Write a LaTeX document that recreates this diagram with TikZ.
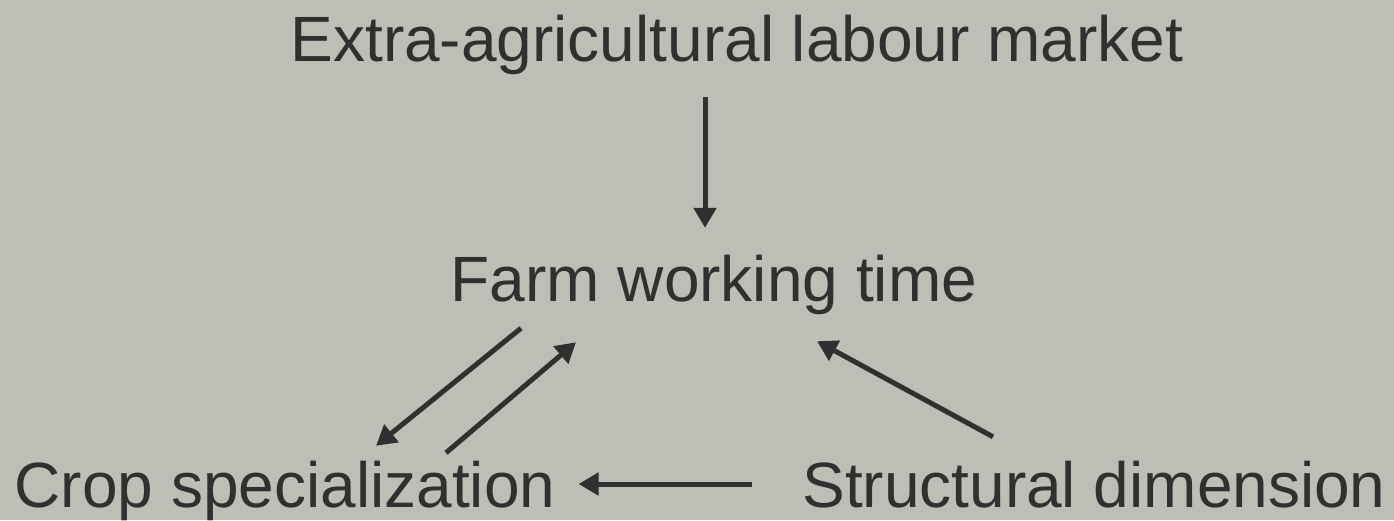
\documentclass[tikz,border=0pt]{standalone}
\usepackage{fontspec}
\setmainfont{Liberation Sans}
\usetikzlibrary{arrows.meta}
\definecolor{bgcol}{RGB}{190,190,182}
\definecolor{inkcol}{RGB}{48,48,48}
\tikzset{
  label/.style={anchor=base, inner xsep=0pt, inner ysep=27pt, text=inkcol,
    text height=47pt, text depth=14pt, font=\fontsize{64}{70}\selectfont},
  arr/.style={-{Triangle[length=20pt,width=22pt]}, line width=5pt, draw=inkcol}
}
\begin{document}
\begin{tikzpicture}[x=1pt,y=-1pt]
\useasboundingbox (0,0) rectangle (1394,520);
\fill[bgcol] (0,0) rectangle (1394,520);
\node[label] (market) at (737,61){Extra-agricultural labour market};
\node[label] (farm) at (714,301){Farm working time};
\node[label] (crop) at (285,507){Crop specialization};
\node[label] (struct) at (1094,507){Structural dimension};
\draw[arr] ([xshift=-32,yshift=5]market.south) -- ([xshift=-9,yshift=-1]farm.north);
\draw[arr] ([xshift=-193,yshift=14]farm.south) -- ([xshift=91,yshift=-13]crop.north);
\draw[arr] ([xshift=161,yshift=-20]crop.north) -- ([xshift=-138]farm.south);
\draw[arr] ([xshift=-101,yshift=-4]struct.north) -- ([xshift=103,yshift=1]farm.south);
\draw[arr] ([xshift=-50,yshift=6.5]struct.west) -- ([xshift=23,yshift=6.5]crop.east);
\end{tikzpicture}
\end{document}
